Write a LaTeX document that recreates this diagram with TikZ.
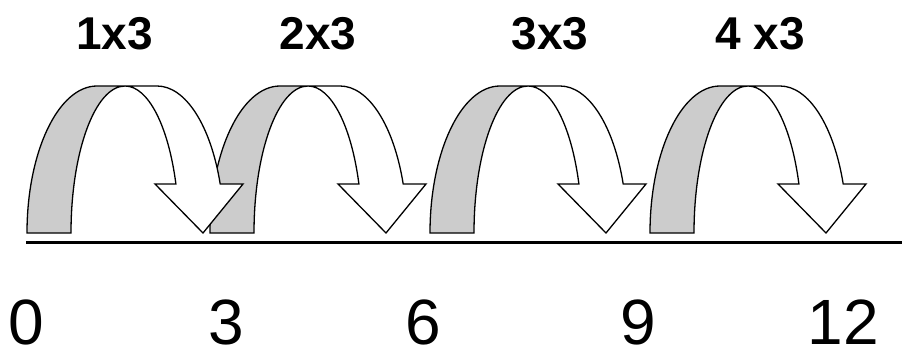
\documentclass[tikz,border=0pt]{standalone}
\usepackage{fontspec}
\setmainfont{Liberation Sans}
\definecolor{bandgray}{RGB}{204,204,204}
\tikzset{
  shapeline/.style={draw=black, line width=1.3pt, line join=miter},
  backband/.style={shapeline, fill=bandgray},
  frontband/.style={shapeline, fill=white},
  steplabel/.style={anchor=base, inner sep=0pt, font=\fontsize{46}{46}\selectfont\bfseries},
  numlabel/.style={anchor=base, inner sep=0pt, text depth=0pt, font=\fontsize{64}{64}\selectfont},
}
\newcommand{\jumparrow}[1]{%
  % gray back part
  \path[backband] (#1,116) arc[start angle=180, end angle=90, x radius=70, y radius=147]
     -- ++(28,0) arc[start angle=90, end angle=180, x radius=54, y radius=147] -- cycle;
  % white front part with head
  \path[frontband] (#1+98,263) arc[start angle=90, end angle=19.47, x radius=54, y radius=147]
     -- (#1+128,165) -- (#1+176,116) -- (#1+216,165) -- (#1+193.2,165)
     arc[start angle=19.47, end angle=90, x radius=67, y radius=147] -- cycle;
}
\begin{document}
\begin{tikzpicture}[x=1pt,y=1pt]
\useasboundingbox (0,0) rectangle (902,349);
\jumparrow{650}
\jumparrow{430}
\jumparrow{210}
\jumparrow{27}
\coordinate (lineA) at (26,107);
\coordinate (lineB) at (902,107);
\draw[line width=3pt] (lineA) -- (lineB);
\node[steplabel] (s1) at (114.5,300) {1x3};
\node[steplabel] (s2) at (318,300) {2x3};
\node[steplabel] (s3) at (550,300) {3x3};
\node[steplabel] (s4) at (760,300) {4 x3};
\node[numlabel] (n0) at (26,5) {0};
\node[numlabel] (n3) at (226,5) {3};
\node[numlabel] (n6) at (423,5) {6};
\node[numlabel] (n9) at (638,5) {9};
\node[numlabel] (n12) at (843,5) {12};
\end{tikzpicture}
\end{document}
